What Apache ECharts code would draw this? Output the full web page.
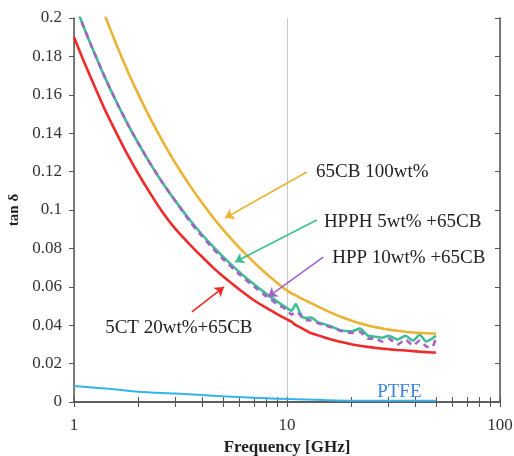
<!DOCTYPE html>
<html>
<head>
<meta charset="utf-8">
<script src="https://cdn.jsdelivr.net/npm/echarts@6/dist/echarts.min.js"></script>
<style>
html, body { margin: 0; padding: 0; background: #fff; }
#main { width: 514px; height: 456px; }
</style>
</head>
<body>
<div id="main"></div>
<script>
// frequency points (GHz)
var freq = [1, 1.1, 1.2, 1.4, 1.6, 1.8, 2, 2.3, 2.6, 3, 3.5, 4, 4.5, 5, 6, 7, 8, 9, 10, 10.5,
    11, 11.5, 12, 13, 14, 15, 16, 18, 20, 22, 24, 26, 28, 30, 33, 36, 39, 42, 45, 48, 50];

var cb65 = [0.2487, 0.2342, 0.2216, 0.2011, 0.1848, 0.1715, 0.1605, 0.1469, 0.1360, 0.1242, 0.1127, 0.1036, 0.0961, 0.0899, 0.0801, 0.0727, 0.0668, 0.0620, 0.0580, 0.0566,
    0.0555, 0.0543, 0.0533, 0.0514, 0.0497, 0.0481, 0.0467, 0.0443, 0.0425, 0.0410, 0.0399, 0.0390, 0.0383, 0.0377, 0.0371, 0.0366, 0.0362, 0.0360, 0.0358, 0.0357, 0.0356];

var hpph = [0.2087, 0.1965, 0.1861, 0.1688, 0.1552, 0.1441, 0.1349, 0.1235, 0.1143, 0.1045, 0.0948, 0.0871, 0.0809, 0.0757, 0.0675, 0.0613, 0.0563, 0.0523, 0.0489, 0.0475,
    0.051, 0.0465, 0.0438, 0.0440, 0.0415, 0.0405, 0.0395, 0.0372, 0.0368, 0.0382, 0.0345, 0.034, 0.0335, 0.0345, 0.0325, 0.0345, 0.032, 0.035, 0.0315, 0.033, 0.0345];

var hpp = [0.2087, 0.1965, 0.1861, 0.1688, 0.1552, 0.1441, 0.1349, 0.1235, 0.1143, 0.1045, 0.094, 0.0862, 0.0798, 0.0745, 0.0663, 0.0601, 0.055, 0.051, 0.0478, 0.0455,
    0.047, 0.0455, 0.0428, 0.0425, 0.041, 0.040, 0.039, 0.037, 0.036, 0.0365, 0.033, 0.033, 0.0315, 0.033, 0.030, 0.0325, 0.0295, 0.032, 0.029, 0.0285, 0.0335];

var ct5 = [0.190, 0.1787, 0.1689, 0.152, 0.139, 0.128, 0.119, 0.108, 0.099, 0.090, 0.082, 0.0755, 0.070, 0.0655, 0.0585, 0.053, 0.049, 0.0458, 0.043, 0.0418,
    0.040, 0.039, 0.0378, 0.0358, 0.0347, 0.0336, 0.0327, 0.0312, 0.0301, 0.0293, 0.0287, 0.0282, 0.0278, 0.0275, 0.0271, 0.0268, 0.0265, 0.0262, 0.026, 0.0258, 0.0257];

var ptfeFreq = [1, 1.5, 2, 3, 4, 5, 7, 10, 15, 20, 30, 40, 50];
var ptfe = [0.0083, 0.0068, 0.0054, 0.0044, 0.0036, 0.003, 0.0022, 0.0016, 0.001, 0.0007, 0.0007, 0.0007, 0.0007];

var minorTicks = [1, 2, 3, 4, 5, 6, 7, 8, 9, 10, 20, 30, 40, 50, 60, 70, 80, 90, 100];

function pairs(xs, ys) {
    return xs.map(function (x, i) { return [x, ys[i]]; });
}

var serif = 'Liberation Serif';
var axisColor = '#555';

function arrow(color, from, to) {
    return {
        silent: true,
        symbol: ['none', 'arrow'],
        symbolSize: 9,
        label: { show: false },
        lineStyle: { color: color, width: 1.6, type: 'solid' },
        data: [[{ coord: from }, { coord: to }]]
    };
}

function tag(text, at, color, size) {
    return {
        silent: true,
        symbol: 'circle',
        symbolSize: 0,
        label: {
            show: true,
            position: 'right',
            distance: 0,
            formatter: text,
            color: color,
            fontFamily: serif,
            fontSize: size || 19
        },
        data: [{ coord: at }]
    };
}

var myChart = echarts.init(document.getElementById('main'));

var option = {
    animation: false,
    backgroundColor: '#fff',
    grid: { left: 74, right: 14, top: 18, bottom: 54, containLabel: false, outerBoundsMode: 'none' },
    xAxis: [{
        type: 'log',
        logBase: 10,
        min: 1,
        max: 100,
        position: 'bottom',
        name: 'Frequency [GHz]',
        nameLocation: 'middle',
        nameGap: 34,
        nameTextStyle: { fontFamily: serif, fontWeight: 'bold', fontSize: 17, color: '#222' },
        axisLine: { show: true, lineStyle: { color: axisColor, width: 1.5 } },
        axisTick: { show: true, inside: true, length: 5, customValues: minorTicks, lineStyle: { color: axisColor } },
        axisLabel: { fontFamily: serif, fontSize: 17, color: '#333', margin: 15 },
        splitLine: { show: false }
    }, {
        type: 'log',
        logBase: 10,
        min: 1,
        max: 100,
        position: 'top',
        axisLine: { show: true, lineStyle: { color: axisColor, width: 1.5 } },
        axisTick: { show: true, inside: true, length: 5, customValues: minorTicks, lineStyle: { color: axisColor } },
        axisLabel: { show: false },
        splitLine: { show: false }
    }, {
        // only for the decade grid line at 10
        type: 'log',
        logBase: 10,
        min: 1,
        max: 100,
        position: 'bottom',
        axisLine: { show: false },
        axisTick: { show: false },
        axisLabel: { show: false },
        splitLine: { show: true, lineStyle: { color: '#c8c8c8', width: 1 } }
    }],
    yAxis: [{
        type: 'value',
        min: 0,
        max: 0.2,
        interval: 0.02,
        position: 'left',
        name: 'tan δ',
        nameLocation: 'middle',
        nameRotate: 90,
        nameGap: 40,
        nameTextStyle: { fontFamily: serif, fontWeight: 'bold', fontSize: 15, color: '#222' },
        axisLine: { show: true, lineStyle: { color: axisColor, width: 1.5 } },
        axisTick: { show: true, inside: false, length: 5, lineStyle: { color: axisColor } },
        axisLabel: { fontFamily: serif, fontSize: 17, color: '#333', margin: 12 },
        splitLine: { show: false }
    }, {
        type: 'value',
        min: 0,
        max: 0.2,
        interval: 0.02,
        position: 'right',
        axisLine: { show: true, lineStyle: { color: axisColor, width: 1.5 } },
        axisTick: { show: true, inside: true, length: 5, lineStyle: { color: axisColor } },
        axisLabel: { show: false },
        splitLine: { show: false }
    }],
    series: [{
        name: 'PTFE',
        type: 'line',
        data: pairs(ptfeFreq, ptfe),
        showSymbol: false,
        smooth: 0.3,
        clip: true,
        lineStyle: { color: '#35b4ec', width: 2 },
        markPoint: tag('PTFE', [26.5, 0.0052], '#3f85d4', 19)
    }, {
        name: '5CT 20wt%+65CB',
        type: 'line',
        data: pairs(freq, ct5),
        showSymbol: false,
        smooth: 0.2,
        clip: true,
        lineStyle: { color: '#ee2a2a', width: 2.6 },
        markLine: arrow('#ee2a2a', [3.58, 0.0469], [5.06, 0.0599]),
        markPoint: tag('5CT 20wt%+65CB', [1.4, 0.0385], '#222', 19)
    }, {
        name: 'HPPH 5wt% +65CB',
        type: 'line',
        data: pairs(freq, hpph),
        showSymbol: false,
        smooth: 0.2,
        clip: true,
        lineStyle: { color: '#3dbe93', width: 2.6 },
        markLine: arrow('#3dbe93', [13.8, 0.0948], [5.7, 0.0729]),
        markPoint: tag('HPPH 5wt% +65CB', [14.9, 0.0938], '#222', 19)
    }, {
        name: 'HPP 10wt% +65CB',
        type: 'line',
        data: pairs(freq, hpp),
        showSymbol: false,
        smooth: 0.2,
        clip: true,
        lineStyle: { color: '#a262c8', width: 2.6, type: [6, 5] },
        markLine: arrow('#a262c8', [14.8, 0.0755], [8.15, 0.0547]),
        markPoint: tag('HPP 10wt% +65CB', [16.3, 0.075], '#222', 19)
    }, {
        name: '65CB 100wt%',
        type: 'line',
        data: pairs(freq, cb65),
        showSymbol: false,
        smooth: 0.2,
        clip: true,
        lineStyle: { color: '#ebb335', width: 2.6 },
        markLine: arrow('#ebb335', [12.4, 0.1198], [5.12, 0.0958]),
        markPoint: tag('65CB 100wt%', [13.7, 0.1198], '#222', 19)
    }]
};

myChart.setOption(option);
window.addEventListener('resize', function () {
    myChart.resize();
});
</script>
</body>
</html>
